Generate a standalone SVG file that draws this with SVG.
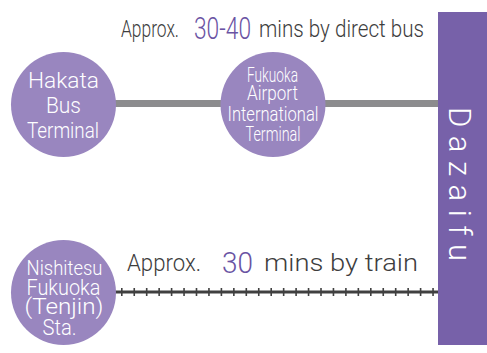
<svg xmlns="http://www.w3.org/2000/svg" width="487" height="353" viewBox="0 0 487 353">
<style>
.t{font-family:Roboto,"Liberation Sans",sans-serif;font-weight:300;fill:#3d3d3d}
.n{font-family:Roboto,"Liberation Sans",sans-serif;font-weight:300;fill:#6a53a3}
.w{font-family:Roboto,"Liberation Sans",sans-serif;font-weight:300;fill:#ffffff;text-anchor:middle}
.c{fill:#9986bf}
</style>
<rect width="487" height="353" fill="#ffffff"/>
<g id="connectors">
<line x1="110" y1="103.5" x2="440" y2="103.5" stroke="#8c8c8e" stroke-width="7"/>
<line x1="114" y1="292" x2="440" y2="292" stroke="#404040" stroke-width="3"/>
<line x1="121" y1="292" x2="440" y2="292" stroke="#404040" stroke-width="8" stroke-dasharray="1.6 10.85"/>
</g>
<g id="label-bus">
<text class="t" x="121" y="36.5" font-size="23" textLength="58" lengthAdjust="spacingAndGlyphs">Approx.</text>
<text class="n" x="194" y="39" font-size="31" textLength="57" lengthAdjust="spacingAndGlyphs">30-40</text>
<text class="t" x="259" y="36.5" font-size="23" textLength="165" lengthAdjust="spacingAndGlyphs">mins by direct bus</text>
</g>
<g id="label-train">
<text class="t" x="127" y="271" font-size="24" textLength="74" lengthAdjust="spacingAndGlyphs">Approx.</text>
<text class="n" x="222" y="273" font-size="30" textLength="31" lengthAdjust="spacingAndGlyphs">30</text>
<text class="t" x="264" y="271" font-size="24" textLength="154" lengthAdjust="spacingAndGlyphs">mins by train</text>
</g>
<g id="dazaifu">
<rect x="438" y="12" width="49" height="333" fill="#7761a9"/>
<text class="w" style="text-anchor:start" font-size="31" transform="translate(449,107) rotate(90)" textLength="154" lengthAdjust="spacing">Dazaifu</text>
</g>
<g id="hakata">
<circle class="c" cx="63.5" cy="104.5" r="52.5"/>
<text class="w" x="63.5" y="88" font-size="22.5" textLength="71" lengthAdjust="spacingAndGlyphs">Hakata</text>
<text class="w" x="63.5" y="113" font-size="22.5" textLength="35" lengthAdjust="spacingAndGlyphs">Bus</text>
<text class="w" x="63" y="138" font-size="22.5" textLength="72" lengthAdjust="spacingAndGlyphs">Terminal</text>
</g>
<g id="airport">
<circle class="c" cx="273" cy="104.5" r="52.5"/>
<text class="w" x="272.5" y="81.5" font-size="20.5" textLength="51" lengthAdjust="spacingAndGlyphs">Fukuoka</text>
<text class="w" x="272.5" y="100" font-size="20.5" textLength="51" lengthAdjust="spacingAndGlyphs">Airport</text>
<text class="w" x="273" y="121" font-size="20.5" textLength="91" lengthAdjust="spacingAndGlyphs">International</text>
<text class="w" x="273" y="141" font-size="20.5" textLength="55" lengthAdjust="spacingAndGlyphs">Terminal</text>
</g>
<g id="nishitesu">
<circle class="c" cx="63.5" cy="292.5" r="52.5"/>
<text class="w" x="64.5" y="275" font-size="21" textLength="76" lengthAdjust="spacingAndGlyphs">Nishitesu</text>
<text class="w" x="63.5" y="295" font-size="22.5" textLength="74" lengthAdjust="spacingAndGlyphs">Fukuoka</text>
<text class="w" x="64" y="314" font-size="22.5" textLength="79" lengthAdjust="spacingAndGlyphs">(Tenjin)</text>
<text class="w" x="59.5" y="335" font-size="22.5" textLength="34" lengthAdjust="spacingAndGlyphs">Sta.</text>
</g>
</svg>
